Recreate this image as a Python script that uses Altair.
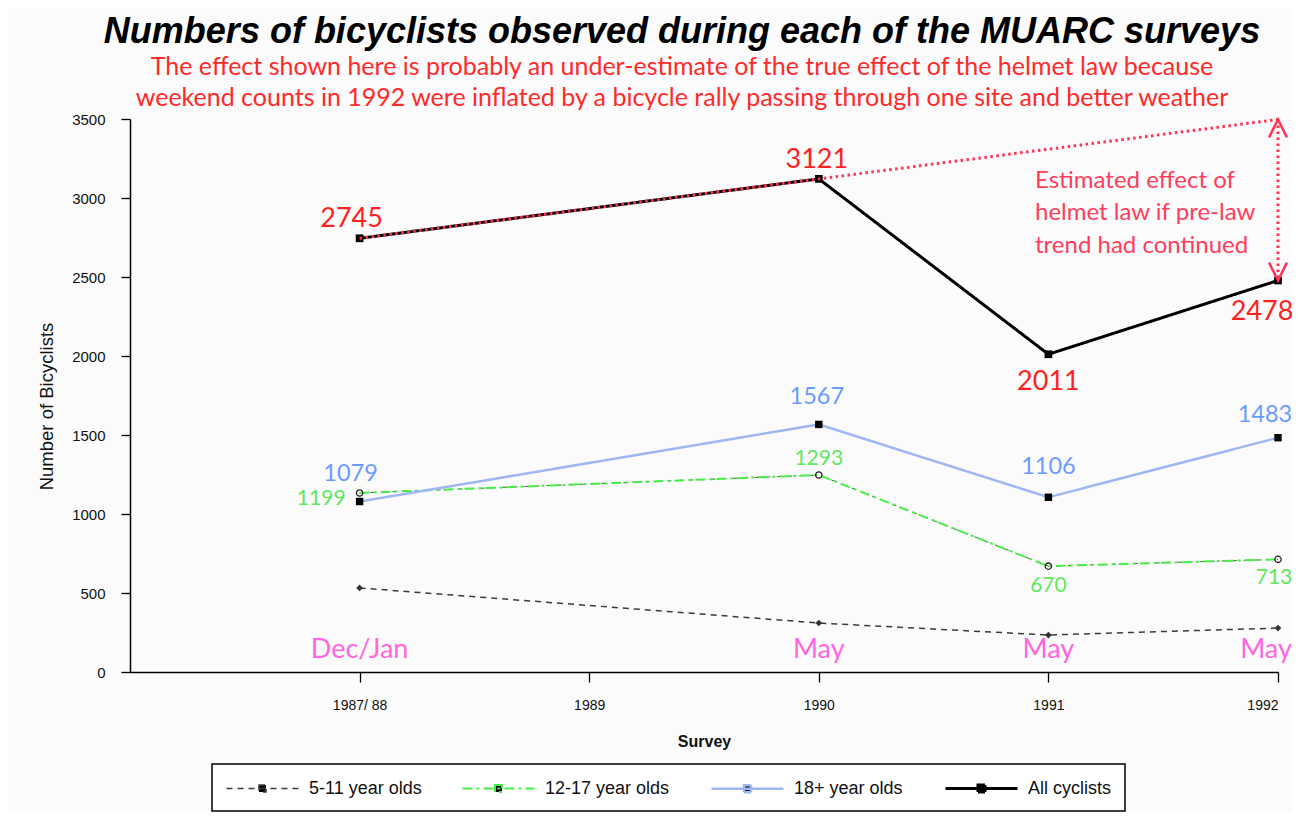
import json
import altair as alt
import pandas as pd

# ---------------- data ----------------
survey_ticks = ["1987/ 88", "1989", "1990", "1991", "1992"]
surveys = ["1987/ 88", "1990", "1991", "1992"]
months = ["Dec/Jan", "May", "May", "May"]
series_names = ["5-11 year olds", "12-17 year olds", "18+ year olds", "All cyclists"]

kids_5_11 = [532, 310, 234, 278]
teens_12_17 = [1133, 1247, 670, 713]
adults_18 = [1079, 1567, 1106, 1483]
all_cyclists = [2745, 3121, 2011, 2478]

teen_labels = ["1199", "1293", "670", "713"]
adult_labels = ["1079", "1567", "1106", "1483"]
all_labels = ["2745", "3121", "2011", "2478"]

title_text = "Numbers of bicyclists observed during each of the MUARC surveys"
subtitle_lines = [
    "The effect shown here is probably an under-estimate of the true effect of the helmet law because",
    "weekend counts in 1992 were inflated by a bicycle rally passing through one site and better weather",
]
note_lines = ["Estimated effect of", "helmet law if pre-law", "trend had continued"]

# ---------------- tables ----------------
pos = [survey_ticks.index(s) + 1 for s in surveys]
rows = []
for name, vals, labs in [
    (series_names[0], kids_5_11, [""] * 4),
    (series_names[1], teens_12_17, teen_labels),
    (series_names[2], adults_18, adult_labels),
    (series_names[3], all_cyclists, all_labels),
]:
    for i, (p, v, l) in enumerate(zip(pos, vals, labs)):
        rows.append({"series": name, "pos": p, "value": v, "label": l, "idx": i})
df = pd.DataFrame(rows)

# pre-law trend continued (from 1987/88 -> 1990 slope)
slope = (all_cyclists[1] - all_cyclists[0]) / (pos[1] - pos[0])
trend_end = all_cyclists[1] + slope * (pos[3] - pos[1])
df_trend = pd.DataFrame({"pos": [pos[0], pos[1], pos[3]],
                         "value": [all_cyclists[0], all_cyclists[1], trend_end]})
df_arrow = pd.DataFrame({"pos": [pos[3]], "value": [trend_end], "value2": [all_cyclists[3]]})
df_arrow_top = pd.DataFrame({"pos": [pos[3]], "value": [trend_end]})
df_arrow_bot = pd.DataFrame({"pos": [pos[3]], "value": [all_cyclists[3]]})
df_note = pd.DataFrame({"pos": [pos[3]], "value": [(trend_end + all_cyclists[3]) / 2],
                        "note": [note_lines]})
df_months = pd.DataFrame({"pos": pos, "value": [0] * 4, "month": months})

# ---------------- styles ----------------
RED = "#ff1f1f"
NOTE_RED = "#ff3d5c"
BLUE_TXT = "#6b9bff"
GREEN_TXT = "#5ee85e"
MAGENTA = "#ff66e0"
CAL = "Lato"
ARIAL = "Liberation Sans"

label_expr = "[''," + ",".join(json.dumps(s) for s in survey_ticks) + "][datum.value]"

X = alt.X("pos:Q",
          scale=alt.Scale(domain=[0, 5], nice=False, zero=False),
          axis=alt.Axis(values=[1, 2, 3, 4, 5], labelExpr=label_expr, title="Survey",
                        grid=False, domainColor="black", domainWidth=1.5,
                        tickColor="black", tickWidth=1.3, tickSize=10,
                        labelFont=ARIAL, labelFontSize=14, labelColor="#111",
                        labelPadding=16, titleFont=ARIAL, titleFontSize=16,
                        titleFontWeight="bold", titleColor="#111", titlePadding=21))
Y = alt.Y("value:Q",
          scale=alt.Scale(domain=[0, 3500], nice=False),
          axis=alt.Axis(values=list(range(0, 3501, 500)), format="d",
                        title="Number of Bicyclists",
                        grid=False, domainColor="black", domainWidth=1.5,
                        tickColor="black", tickWidth=1.3, tickSize=9,
                        labelFont=ARIAL, labelFontSize=15, labelColor="#111",
                        labelPadding=16, titleFont=ARIAL, titleFontSize=18.5,
                        titleFontWeight="normal", titleColor="#111", titlePadding=15,
                        titleY=287))

base = alt.Chart(df)

legend = alt.Legend(title=None)
lines = base.mark_line(strokeCap="butt", strokeJoin="round").encode(
    x=X, y=Y,
    color=alt.Color("series:N", sort=series_names,
                    scale=alt.Scale(domain=series_names,
                                    range=["#3a3a3a", "#44ee44", "#9fb6f2", "#000000"]),
                    legend=legend),
    strokeDash=alt.StrokeDash("series:N", sort=series_names,
                              scale=alt.Scale(domain=series_names,
                                              range=[[6, 5], [10, 4, 3, 4], [1, 0], [1, 0]]),
                              legend=legend),
    strokeWidth=alt.StrokeWidth("series:N", sort=series_names,
                                scale=alt.Scale(domain=series_names, range=[1.5, 3, 3, 2.5]),
                                legend=legend),
)

teen_under = base.transform_filter(f"datum.series == '{series_names[1]}'").mark_line(
    color="#555", strokeWidth=1, strokeDash=[4, 7]).encode(x=X, y=Y)

pts_kids = base.transform_filter(f"datum.series == '{series_names[0]}'").mark_point(
    shape="diamond", filled=True, color="#333", size=45, opacity=1).encode(x=X, y=Y)
pts_teen = base.transform_filter(f"datum.series == '{series_names[1]}'").mark_point(
    shape="circle", filled=False, color="#222", strokeWidth=1.3, size=40, opacity=1).encode(x=X, y=Y)
pts_adult = base.transform_filter(f"datum.series == '{series_names[2]}'").mark_point(
    shape="square", filled=True, color="#000", size=55, opacity=1).encode(x=X, y=Y)
pts_all = base.transform_filter(f"datum.series == '{series_names[3]}'").mark_point(
    shape="square", filled=True, color="#000", size=60, opacity=1).encode(x=X, y=Y)

trend = alt.Chart(df_trend).mark_line(color="#ff3355", strokeWidth=3, strokeDash=[2.5, 3.5],
                                      strokeCap="butt").encode(x=X, y=Y)
arrow = alt.Chart(df_arrow).mark_rule(color="#ff3355", strokeWidth=3, strokeDash=[2.5, 3.5]).encode(
    x=X, y=Y, y2="value2:Q")
arrow_top = alt.Chart(df_arrow_top).mark_point(shape="M-1,2L0,0L1,2", filled=False,
                                               color="#ff3355", strokeWidth=2.5, size=320,
                                               opacity=1).encode(x=X, y=Y)
arrow_bot = alt.Chart(df_arrow_bot).mark_point(shape="M-1,-2L0,0L1,-2", filled=False,
                                               color="#ff3355", strokeWidth=2.5, size=320,
                                               opacity=1).encode(x=X, y=Y)


def point_label(series, idx, color, size, dx, dy, align="center"):
    return base.transform_filter(
        f"datum.series == '{series}' && datum.idx == {idx}"
    ).mark_text(color=color, font=CAL, fontSize=size, dx=dx, dy=dy, align=align,
                baseline="middle").encode(x=X, y=Y, text="label:N")


labels = [
    point_label(series_names[3], 0, RED, 27, -8, -19),
    point_label(series_names[3], 1, RED, 27, -2, -19),
    point_label(series_names[3], 2, RED, 27, 0, 28),
    point_label(series_names[3], 3, RED, 27, -16, 32),
    point_label(series_names[2], 0, BLUE_TXT, 23.5, -9, -28),
    point_label(series_names[2], 1, BLUE_TXT, 23.5, -2, -27),
    point_label(series_names[2], 2, BLUE_TXT, 23.5, 0, -30),
    point_label(series_names[2], 3, BLUE_TXT, 23.5, -13, -23),
    point_label(series_names[1], 0, GREEN_TXT, 21, -14, 6, "right"),
    point_label(series_names[1], 1, GREEN_TXT, 21, 0, -16),
    point_label(series_names[1], 2, GREEN_TXT, 21, 0, 20),
    point_label(series_names[1], 3, GREEN_TXT, 21, -4, 19),
]

month_text = alt.Chart(df_months.iloc[:3]).mark_text(
    color=MAGENTA, font=CAL, fontSize=27, dy=-22, baseline="middle").encode(
    x=X, y=Y, text="month:N")
month_text_last = alt.Chart(df_months.iloc[[3]]).mark_text(
    color=MAGENTA, font=CAL, fontSize=27, dy=-22, dx=-12, baseline="middle").encode(
    x=X, y=Y, text="month:N")
note_text = alt.Chart(df_note).mark_text(color=NOTE_RED, font=CAL, fontSize=24, align="left",
                                         baseline="middle", dx=-243, dy=-19,
                                         lineHeight=32.5).encode(x=X, y=Y, text="note:N")

LEGEND_SYMBOL = "M-1,0L6.2,0M2.25,-0.35L2.95,-0.35L2.95,0.35L2.25,0.35Z"

chart = alt.layer(
    teen_under, lines, pts_kids, pts_teen, pts_adult, pts_all,
    trend, arrow, arrow_top, arrow_bot, *labels, month_text, month_text_last, note_text,
).properties(
    width=1148, height=553,
    autosize=alt.AutoSizeParams(type="none"),
    padding={"left": 122, "top": 111, "right": 14, "bottom": 140},
    title=alt.TitleParams(
        text=title_text, subtitle=subtitle_lines, anchor="middle", dx=-22,
        font=ARIAL, fontSize=36, fontStyle="italic", fontWeight="bold", color="#000",
        subtitleFont=CAL, subtitleFontSize=25, subtitleColor="#ff2a2a",
        subtitleLineHeight=31, subtitlePadding=4, offset=0,
    ),
).configure(
    background="#fbfbfb",
).configure_view(
    stroke=None,
).configure_legend(
    orient="none", legendX=82, legendY=645, direction="horizontal", columns=4,
    strokeColor="black", strokeWidth=1.5, fillColor="#ffffff", padding=13,
    symbolType=LEGEND_SYMBOL, symbolSize=400, symbolFillColor="black",
    labelFont=ARIAL, labelFontSize=18, labelColor="#111", labelOffset=61,
    columnPadding=36, symbolOpacity=1,
)

chart.save("out.html", embed_options={"renderer": "svg", "actions": False})
